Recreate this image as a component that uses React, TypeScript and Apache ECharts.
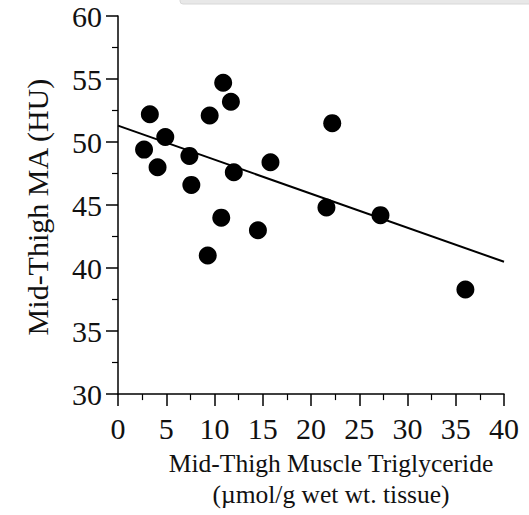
import React, { useEffect, useRef } from "react";
import * as echarts from "echarts";

const triglyceride = [3.3, 10.9, 11.7, 9.5, 4.9, 2.7, 4.1, 7.4, 7.6, 12.0, 15.8, 10.7, 14.5, 9.3, 22.2, 21.6, 27.2, 36.0];
const muscleAttenuation = [52.2, 54.7, 53.2, 52.1, 50.4, 49.4, 48.0, 48.9, 46.6, 47.6, 48.4, 44.0, 43.0, 41.0, 51.5, 44.8, 44.2, 38.3];
const fitX = [0, 40];
const fitY = [51.3, 40.5];
const xTitle = "Mid-Thigh Muscle Triglyceride\n(µmol/g wet wt. tissue)";
const yTitle = "Mid-Thigh MA (HU)";

const FONT = "'Liberation Serif', 'DejaVu Serif', serif";

export default function App() {
  const ref = useRef<HTMLDivElement>(null);
  useEffect(() => {
    if (!ref.current) return;
    const chart = echarts.init(ref.current, null, { renderer: "svg" });
    const axisCommon = {
      axisLine: { show: true, lineStyle: { color: "#000", width: 1.5 } },
      axisTick: { show: true, inside: false, length: 12, lineStyle: { color: "#000", width: 1.5 } },
      minorTick: { show: true, splitNumber: 2, length: 6, lineStyle: { color: "#000", width: 1.2 } },
      splitLine: { show: false },
      axisLabel: { color: "#111", fontFamily: FONT, fontSize: 30 },
    };
    chart.setOption({
      animation: false,
      backgroundColor: "#fff",
      grid: { left: 118, right: 25, top: 16, bottom: 115 },
      xAxis: {
        type: "value",
        min: 0,
        max: 40,
        interval: 5,
        ...axisCommon,
        axisLabel: { ...axisCommon.axisLabel, margin: 19 },
        name: xTitle,
        nameLocation: "middle",
        nameGap: 51,
        nameTextStyle: { color: "#111", fontFamily: FONT, fontSize: 25.5, lineHeight: 31, padding: [0, 0, 0, 40] },
      },
      yAxis: {
        type: "value",
        min: 30,
        max: 60,
        interval: 5,
        ...axisCommon,
        axisLabel: { ...axisCommon.axisLabel, margin: 16 },
        name: yTitle,
        nameLocation: "middle",
        nameGap: 66,
        nameRotate: 90,
        nameTextStyle: { color: "#111", fontFamily: FONT, fontSize: 30, padding: [0, 4, 0, 0] },
      },
      graphic: [
        {
          type: "rect",
          shape: { x: 180, y: -4, width: 360, height: 8, r: 3 },
          style: { fill: "#e8e8e8", stroke: "#d8d8d8" },
        },
      ],
      series: [
        {
          type: "line",
          data: fitX.map((x, i) => [x, fitY[i]]),
          showSymbol: false,
          symbol: "none",
          lineStyle: { color: "#000", width: 2 },
          z: 2,
        },
        {
          type: "scatter",
          data: triglyceride.map((x, i) => [x, muscleAttenuation[i]]),
          symbol: "circle",
          symbolSize: 18,
          itemStyle: { color: "#000", opacity: 1 },
          z: 3,
        },
      ],
    });
    return () => chart.dispose();
  }, []);
  return <div ref={ref} style={{ width: 529, height: 515, position: "absolute", left: 0, top: 0 }} />;
}
